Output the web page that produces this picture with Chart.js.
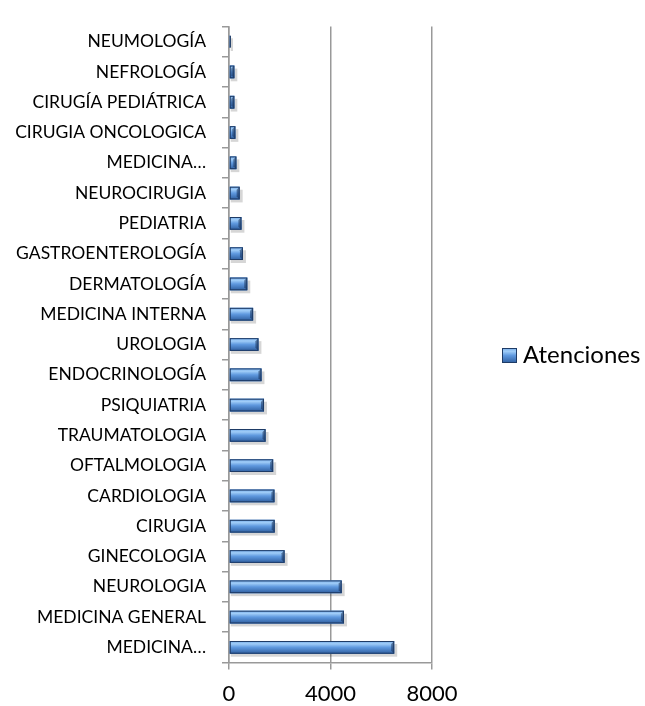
<!DOCTYPE html>
<html>
<head>
<meta charset="utf-8">
<script src="https://cdn.jsdelivr.net/npm/chart.js@4"></script>
<style>
  html, body { margin: 0; padding: 0; background: #fff; }
  #wrap { width: 645px; height: 706px; }
</style>
</head>
<body>
<div id="wrap"><canvas id="atencionesChart" width="645" height="706"></canvas></div>
<script>
// especialidades, de arriba hacia abajo
const especialidades = [
    'NEUMOLOGÍA', 'NEFROLOGÍA', 'CIRUGÍA PEDIÁTRICA', 'CIRUGIA ONCOLOGICA', 'MEDICINA…',
    'NEUROCIRUGIA', 'PEDIATRIA', 'GASTROENTEROLOGÍA', 'DERMATOLOGÍA', 'MEDICINA INTERNA',
    'UROLOGIA', 'ENDOCRINOLOGÍA', 'PSIQUIATRIA', 'TRAUMATOLOGIA', 'OFTALMOLOGIA',
    'CARDIOLOGIA', 'CIRUGIA', 'GINECOLOGIA', 'NEUROLOGIA', 'MEDICINA GENERAL', 'MEDICINA…'
];
const atenciones = [
    40, 210, 210, 250, 290,
    420, 490, 550, 720, 950,
    1160, 1280, 1380, 1440, 1740,
    1790, 1800, 2190, 4440, 4530, 6510
];
const xTicks = [0, 4000, 8000];
const serieNombre = 'Atenciones';

const FONT = 'Lato';

function barGradient(ctx, top, bottom) {
    const g = ctx.createLinearGradient(0, top, 0, bottom);
    g.addColorStop(0, '#72a9e8');
    g.addColorStop(0.22, '#a0cdf8');
    g.addColorStop(0.5, '#5f99df');
    g.addColorStop(1, '#2e5e9f');
    return g;
}

// sombra + degradado sobre las barras
const bevelBars = {
    id: 'bevelBars',
    beforeDatasetsDraw(chart) {
        const ctx = chart.ctx;
        const meta = chart.getDatasetMeta(0);
        ctx.save();
        ctx.fillStyle = 'rgba(0,0,0,0.16)';
        meta.data.forEach(bar => {
            const h = bar.height;
            ctx.fillRect(bar.base + 1, bar.y - h / 2 + 3, bar.x - bar.base + 2, h);
        });
        ctx.restore();
    },
    afterDatasetsDraw(chart) {
        const ctx = chart.ctx;
        const meta = chart.getDatasetMeta(0);
        ctx.save();
        meta.data.forEach(bar => {
            const h = bar.height;
            const top = bar.y - h / 2;
            const w = bar.x - bar.base;
            ctx.fillStyle = barGradient(ctx, top, top + h);
            ctx.fillRect(bar.base, top, w, h);
            // borde derecho oscuro (bisel)
            if (w > 4) {
                ctx.fillStyle = 'rgba(20,45,85,0.55)';
                ctx.beginPath();
                ctx.moveTo(bar.x - 3, top + 3);
                ctx.lineTo(bar.x, top);
                ctx.lineTo(bar.x, top + h);
                ctx.lineTo(bar.x - 3, top + h - 3);
                ctx.closePath();
                ctx.fill();
            }
            ctx.strokeStyle = '#1e3b66';
            ctx.lineWidth = 1;
            ctx.strokeRect(bar.base + 0.5, top + 0.5, Math.max(w - 1, 0), h - 1);
        });
        ctx.restore();
    }
};

// leyenda a la derecha
const sideLegend = {
    id: 'sideLegend',
    afterDraw(chart) {
        const ctx = chart.ctx;
        const x = chart.chartArea.right + 70;
        const y = 348;
        ctx.save();
        ctx.fillStyle = barGradient(ctx, y, y + 15);
        ctx.fillRect(x, y, 15, 15);
        ctx.strokeStyle = '#1e3b66';
        ctx.strokeRect(x + 0.5, y + 0.5, 14, 14);
        ctx.fillStyle = '#000';
        ctx.font = '24px ' + FONT;
        ctx.textBaseline = 'middle';
        ctx.fillText(chart.data.datasets[0].label, x + 21, y + 7);
        ctx.restore();
    }
};

const ctx = document.getElementById('atencionesChart').getContext('2d');
new Chart(ctx, {
    type: 'bar',
    data: {
        labels: especialidades,
        datasets: [{
            label: serieNombre,
            data: atenciones,
            backgroundColor: '#4a86d0',
            borderWidth: 0,
            barPercentage: 0.42,
            categoryPercentage: 1
        }]
    },
    options: {
        indexAxis: 'y',
        responsive: false,
        animation: false,
        layout: { padding: { top: 11, right: 213, bottom: 0, left: 0 } },
        plugins: {
            legend: { display: false },
            tooltip: { enabled: false }
        },
        scales: {
            x: {
                min: 0,
                max: 8000,
                afterBuildTicks: scale => { scale.ticks = xTicks.map(v => ({ value: v })); },
                afterFit: scale => { scale.height = 43.5; },
                grid: { color: '#999', lineWidth: 1.5, tickLength: 7 },
                border: { color: '#999', width: 1.5 },
                ticks: {
                    color: '#000',
                    font: { family: FONT, size: 22 },
                    padding: 11,
                    callback: v => String(v)
                }
            },
            y: {
                afterFit: scale => { scale.width = 229; },
                grid: { drawOnChartArea: false, offset: true, color: '#999', lineWidth: 1.5, tickLength: 7 },
                border: { color: '#999', width: 1.5 },
                ticks: { color: '#000', font: { family: FONT, size: 17.5 }, padding: 16, autoSkip: false }
            }
        }
    },
    plugins: [bevelBars, sideLegend]
});
</script>
</body>
</html>
